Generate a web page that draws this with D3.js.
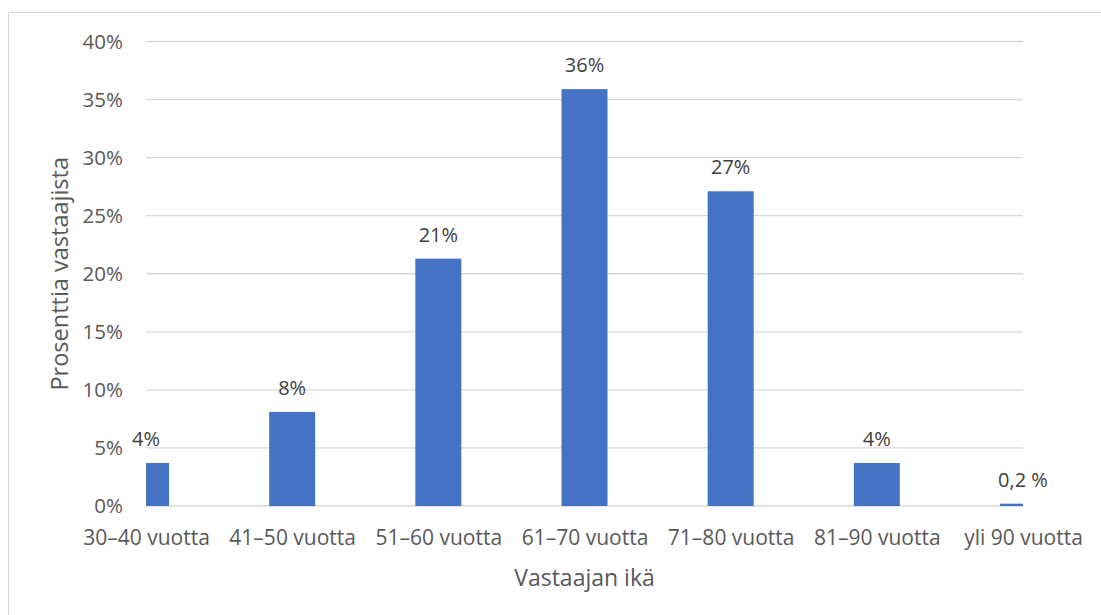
<!DOCTYPE html>
<html>
<head>
<meta charset="utf-8">
<script src="https://cdn.jsdelivr.net/npm/d3@7"></script>
<style>
body { margin:0; background:#fff; }
text { font-family: "Open Sans", "Noto Sans", sans-serif; }
</style>
</head>
<body>
<svg id="chart"></svg>
<script>
var categories = ["30–40 vuotta","41–50 vuotta","51–60 vuotta","61–70 vuotta","71–80 vuotta","81–90 vuotta","yli 90 vuotta"];
var values = [3.7, 8.1, 21.3, 35.9, 27.1, 3.7, 0.2];
var valueLabels = ["4%","8%","21%","36%","27%","4%","0,2 %"];
var yTicks = [0,5,10,15,20,25,30,35,40];

var screen = {width:1101, height:615};
var margins = {top:41.5, bottom:109, left:146, right:78};
var graph = {
    width: screen.width-margins.left-margins.right,
    height: screen.height-margins.top-margins.bottom
};

var svg = d3.select("#chart")
    .attr("width", screen.width)
    .attr("height", screen.height);

// chart frame
svg.append("rect")
    .attr("x",8.5).attr("y",12.5)
    .attr("width",1200).attr("height",700)
    .attr("fill","none")
    .attr("stroke","#d9d9d9");

var xScale = d3.scalePoint()
    .domain(categories)
    .range([0, graph.width]);

var yScale = d3.scaleLinear()
    .domain([0,40])
    .range([graph.height,0]);

var barWidth = 46;

var g = svg.append("g")
    .attr("transform","translate("+margins.left+","+margins.top+")");

g.append("clipPath").attr("id","plotclip")
    .append("rect")
    .attr("x",0).attr("y",-5)
    .attr("width",graph.width).attr("height",graph.height+5);

// gridlines
g.selectAll(".grid")
    .data(yTicks)
    .enter()
    .append("line")
    .attr("x1",0).attr("x2",graph.width)
    .attr("y1",function(d){return yScale(d);})
    .attr("y2",function(d){return yScale(d);})
    .attr("stroke","#d9d9d9")
    .attr("stroke-width",1.3);

// bars
g.append("g")
    .attr("clip-path","url(#plotclip)")
    .selectAll("rect")
    .data(values)
    .enter()
    .append("rect")
    .attr("x",function(d,i){return xScale(categories[i])-barWidth/2;})
    .attr("y",function(d){return yScale(d);})
    .attr("width",barWidth)
    .attr("height",function(d){return graph.height-yScale(d);})
    .style("fill","#4472c4");

// value labels
g.selectAll(".vlabel")
    .data(values)
    .enter()
    .append("text")
    .attr("x",function(d,i){return xScale(categories[i]);})
    .attr("y",function(d){return yScale(d)-17;})
    .attr("text-anchor","middle")
    .attr("fill","#404040")
    .style("font-size","20px")
    .text(function(d,i){return valueLabels[i];});

// y axis
var yAxis = d3.axisLeft(yScale)
    .tickValues(yTicks)
    .tickSize(0)
    .tickPadding(23)
    .tickFormat(function(d){return d+"%";});

var ya = g.append("g").call(yAxis);
ya.select(".domain").remove();
ya.selectAll("text")
    .attr("fill","#595959")
    .style("font-size","20.5px")
    .style("font-family","'Open Sans', sans-serif");

// x axis
var xAxis = d3.axisBottom(xScale)
    .tickSize(0)
    .tickPadding(24);

var xa = g.append("g")
    .attr("transform","translate(0,"+graph.height+")")
    .call(xAxis);
xa.select(".domain").remove();
xa.selectAll("text")
    .attr("fill","#595959")
    .style("font-size","21px")
    .style("font-family","'Open Sans', sans-serif");

// axis titles
svg.append("text")
    .attr("x",margins.left+xScale("61–70 vuotta"))
    .attr("y",586)
    .attr("text-anchor","middle")
    .attr("fill","#595959")
    .style("font-size","23px")
    .text("Vastaajan ikä");

svg.append("text")
    .attr("transform","translate(68,"+(margins.top+graph.height/2)+") rotate(-90)")
    .attr("text-anchor","middle")
    .attr("fill","#595959")
    .style("font-size","23.5px")
    .text("Prosenttia vastaajista");
</script>
</body>
</html>
